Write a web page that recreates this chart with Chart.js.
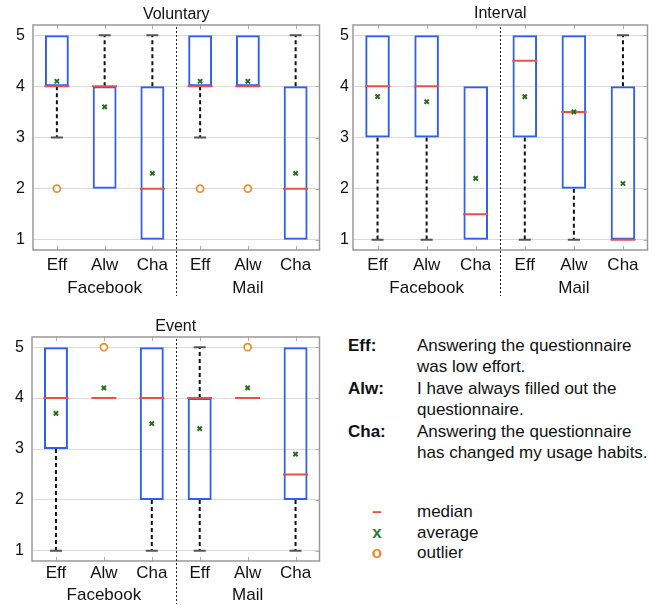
<!DOCTYPE html>
<html>
<head>
<meta charset="utf-8">
<script src="https://cdn.jsdelivr.net/npm/chart.js@4.4.0/dist/chart.umd.min.js"></script>
<style>
  body { margin: 0; background: #fff; font-family: "Liberation Sans", Arial, sans-serif; color: #111; }
  canvas { position: absolute; }
  #notes { position: absolute; left: 348px; top: 335px; font-size: 17px; line-height: 21.4px; }
  #notes .row { display: flex; }
  #notes b { width: 69px; flex: none; }
  #keys { position: absolute; left: 368px; top: 502px; font-size: 17px; line-height: 20.5px; }
  #keys .row { display: flex; }
  #keys .mark { width: 18px; text-align: center; font-weight: bold; margin-right: 31px; }
</style>
</head>
<body>
<canvas id="voluntary" width="334" height="300" style="left:0;top:0"></canvas>
<canvas id="interval" width="328" height="300" style="left:334px;top:0"></canvas>
<canvas id="event" width="334" height="293" style="left:0;top:312px"></canvas>

<div id="notes">
  <div class="row"><b>Eff:</b><span>Answering the questionnaire<br>was low effort.</span></div>
  <div class="row"><b>Alw:</b><span>I have always filled out the<br>questionnaire.</span></div>
  <div class="row"><b>Cha:</b><span>Answering the questionnaire<br>has changed my usage habits.</span></div>
</div>
<div id="keys">
  <div class="row"><span class="mark" style="color:#e8504a">–</span><span>median</span></div>
  <div class="row"><span class="mark" style="color:#2e7d32">x</span><span>average</span></div>
  <div class="row"><span class="mark" style="color:#f08c30">o</span><span>outlier</span></div>
</div>

<script>
const categories = ['Eff', 'Alw', 'Cha', 'Eff', 'Alw', 'Cha'];
const groups = ['Facebook', 'Mail'];
const yTicks = [1, 2, 3, 4, 5];

// Voluntary (Facebook Eff/Alw/Cha, Mail Eff/Alw/Cha)
const volQ1 = [4, 2, 1, 4, 4, 1];
const volQ3 = [5, 4, 4, 5, 5, 4];
const volMedian = [4, 4, 2, 4, 4, 2];
const volMean = [4.1, 3.6, 2.3, 4.1, 4.1, 2.3];
const volLow = [3, 2, 1, 3, 4, 1];
const volHigh = [5, 5, 5, 5, 5, 5];
const volOutlier = [2, null, null, 2, 2, null];

// Interval
const intQ1 = [3, 3, 1, 3, 2, 1];
const intQ3 = [5, 5, 4, 5, 5, 4];
const intMedian = [4, 4, 1.5, 4.5, 3.5, 1];
const intMean = [3.8, 3.7, 2.2, 3.8, 3.5, 2.1];
const intLow = [1, 1, 1, 1, 1, 1];
const intHigh = [5, 5, 4, 5, 5, 5];
const intOutlier = [null, null, null, null, null, null];

// Event
const evtQ1 = [3, 4, 2, 2, 4, 2];
const evtQ3 = [5, 4, 5, 4, 4, 5];
const evtMedian = [4, 4, 4, 4, 4, 2.5];
const evtMean = [3.7, 4.2, 3.5, 3.4, 4.2, 2.9];
const evtLow = [1, 4, 1, 1, 4, 1];
const evtHigh = [5, 4, 5, 5, 4, 5];
const evtOutlier = [null, 5, null, null, 5, null];

const BLUE = '#2f5ef2';
const RED = '#e8504a';
const GREEN = '#2a6e1c';
const ORANGE = '#f08c30';

// whiskers, plot frame, inward tick marks and the Facebook | Mail divider
function boxPlotExtras(s, dividerEnd) {
    const line = (ctx, x1, y1, x2, y2) => {
        ctx.beginPath();
        ctx.moveTo(x1, y1);
        ctx.lineTo(x2, y2);
        ctx.stroke();
    };

    return {
        id: 'boxPlotExtras',
        beforeDatasetsDraw(chart) {
            const { ctx, scales: { x, y } } = chart;
            ctx.save();
            ctx.strokeStyle = '#111';
            ctx.lineWidth = 2;
            ctx.setLineDash([4, 3]);
            s.q1.forEach((q1, i) => {
                const px = x.getPixelForValue(i);
                if (s.low[i] < q1) line(ctx, px, y.getPixelForValue(q1), px, y.getPixelForValue(s.low[i]));
                if (s.high[i] > s.q3[i]) line(ctx, px, y.getPixelForValue(s.q3[i]), px, y.getPixelForValue(s.high[i]));
            });
            ctx.restore();
        },
        afterDraw(chart) {
            const { ctx, chartArea: a, scales: { x, y } } = chart;
            ctx.save();
            ctx.strokeStyle = '#b0b0b0';
            ctx.lineWidth = 1;
            categories.forEach((c, i) => {
                const px = Math.round(x.getPixelForValue(i)) + 0.5;
                line(ctx, px, a.top, px, a.top + 4);
                line(ctx, px, a.bottom, px, a.bottom - 4);
            });
            yTicks.forEach(v => {
                const py = Math.round(y.getPixelForValue(v)) + 0.5;
                line(ctx, a.right, py, a.right - 4, py);
            });

            ctx.strokeStyle = '#999';
            ctx.lineWidth = 1.5;
            ctx.strokeRect(a.left, a.top, a.right - a.left, a.bottom - a.top);

            ctx.strokeStyle = '#222';
            ctx.lineWidth = 1;
            ctx.setLineDash([2, 2]);
            const mid = Math.round((x.getPixelForValue(2) + x.getPixelForValue(3)) / 2) + 0.5;
            line(ctx, mid, a.top + 2, mid, dividerEnd);
            ctx.restore();
        }
    };
}

function makePanel(id, title, s, layout) {
    const labels = categories.map((c, i) => [c, i === 1 ? groups[0] : i === 4 ? groups[1] : '']);
    const capLow = s.low.map((v, i) => v < s.q1[i] ? v : null);
    const capHigh = s.high.map((v, i) => v > s.q3[i] ? v : null);

    const points = (data, style, radius, color, width, fill) => ({
        type: 'line',
        data: data,
        showLine: false,
        pointStyle: style,
        pointRadius: radius,
        pointHoverRadius: radius,
        pointBorderColor: color,
        pointBorderWidth: width,
        pointBackgroundColor: fill || color,
        borderColor: color,
    });

    new Chart(document.getElementById(id), {
        type: 'bar',
        data: {
            labels: labels,
            datasets: [
                points(s.mean, 'crossRot', 3, GREEN, 2),
                points(s.outlier, 'circle', 3.5, ORANGE, 1.8, '#fff'),
                points(s.median, 'line', 12.5, RED, 2),
                points(capLow, 'line', 6, '#555', 2),
                points(capHigh, 'line', 6, '#555', 2),
                {
                    type: 'bar',
                    data: s.q1.map((v, i) => [v, s.q3[i]]),
                    backgroundColor: 'rgba(0,0,0,0)',
                    borderColor: BLUE,
                    borderWidth: 2,
                    borderSkipped: false,
                    barPercentage: 0.5,
                    categoryPercentage: 1,
                }
            ]
        },
        options: {
            responsive: false,
            animation: false,
            layout: { padding: { left: 0, right: layout.right, top: 0, bottom: 0 } },
            plugins: {
                legend: { display: false },
                tooltip: { enabled: false },
                title: {
                    display: true,
                    text: title,
                    fullSize: false,
                    color: '#111',
                    font: { family: 'Liberation Sans', size: 16, weight: 'normal', lineHeight: 1.125 },
                    padding: { top: layout.titleTop, bottom: 7 - layout.titleTop },
                }
            },
            scales: {
                x: {
                    grid: { display: false },
                    border: { display: false },
                    ticks: {
                        color: '#111',
                        autoSkip: false,
                        maxRotation: 0,
                        padding: layout.xPad,
                        font: { family: 'Liberation Sans', size: 17, lineHeight: layout.xLine },
                    },
                    afterFit(scale) { scale.height = layout.xHeight; }
                },
                y: {
                    min: 0.8,
                    max: 5.2,
                    grid: { color: '#dadada', lineWidth: 1, drawTicks: false },
                    border: { display: false },
                    ticks: {
                        color: '#111',
                        padding: layout.yPad,
                        font: { family: 'Liberation Sans', size: 16 },
                    },
                    afterBuildTicks(scale) { scale.ticks = yTicks.map(v => ({ value: v })); },
                    afterFit(scale) { scale.width = layout.yWidth; }
                }
            }
        },
        plugins: [boxPlotExtras(s, layout.dividerEnd)]
    });
}

makePanel('voluntary', 'Voluntary',
    { q1: volQ1, q3: volQ3, median: volMedian, mean: volMean, low: volLow, high: volHigh, outlier: volOutlier },
    { right: 2, titleTop: 6, xPad: -4.5, xLine: 1.35, xHeight: 50, yPad: 8, yWidth: 33, dividerEnd: 296 });

makePanel('interval', 'Interval',
    { q1: intQ1, q3: intQ3, median: intMedian, mean: intMean, low: intLow, high: intHigh, outlier: intOutlier },
    { right: 7, titleTop: 5, xPad: -4.5, xLine: 1.35, xHeight: 50, yPad: 4, yWidth: 19, dividerEnd: 296 });

makePanel('event', 'Event',
    { q1: evtQ1, q3: evtQ3, median: evtMedian, mean: evtMean, low: evtLow, high: evtHigh, outlier: evtOutlier },
    { right: 2, titleTop: 6, xPad: -6.5, xLine: 1.3, xHeight: 44, yPad: 8, yWidth: 32, dividerEnd: 292 });
</script>
</body>
</html>
